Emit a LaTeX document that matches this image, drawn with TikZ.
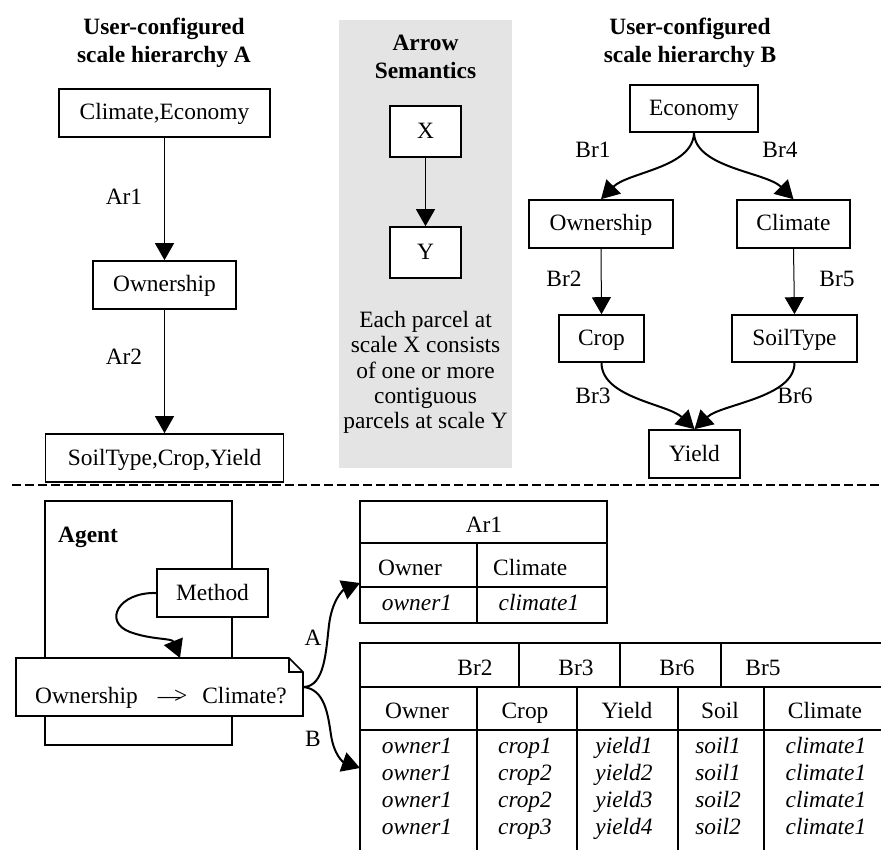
\documentclass[tikz,border=0pt]{standalone}
\usepackage{fontspec}
\setmainfont{Liberation Serif}
\usetikzlibrary{arrows.meta}
\newcommand{\fsz}{\fontsize{23.4}{25.3}\selectfont}
\newcommand{\fszb}{\fontsize{23.4}{27.5}\selectfont\bfseries}
\definecolor{semgray}{RGB}{228,228,228}
\begin{document}
\begin{tikzpicture}[x=1pt,y=-1pt,
  box/.style={draw, line width=1.6pt, fill=white, inner sep=0pt, text height=17pt, text depth=3pt, font=\fsz},
  lbl/.style={font=\fsz, inner sep=0pt, anchor=base},
  ttl/.style={font=\fszb, align=center, inner sep=0pt, anchor=north},
  thinarr/.style={line width=1pt, -{Triangle[length=17pt,width=19pt]}},
  curv/.style={line width=2pt, -{Triangle[length=18pt,width=20pt]}},
  tline/.style={line width=1.8pt},
]
\useasboundingbox (0,0) rectangle (881,850);

% gray semantics panel
\fill[semgray] (339,20) rectangle (512,468);

% ---------- hierarchy A ----------
\node[ttl] (titleA) at (164,18) {User-configured\\scale hierarchy A};
\node[box, minimum width=211pt, minimum height=48pt] (ce) at (164.5,113) {Climate,Economy};
\node[box, minimum width=143pt, minimum height=48pt] (ownA) at (164.5,285) {Ownership};
\node[box, minimum width=238pt, minimum height=48pt] (sctA) at (164.5,458) {SoilType,Crop,Yield};
\draw[thinarr] (ce.south) -- (ownA.north);
\draw[thinarr] (ownA.south) -- (sctA.north);
\node[lbl] (ar1l) at (124,205) {Ar1};
\node[lbl] (ar2l) at (124,364) {Ar2};

% ---------- arrow semantics ----------
\node[ttl] (titleS) at (425.5,35) {Arrow\\Semantics};
\node[box, minimum width=71pt, minimum height=51pt] (X) at (425.5,131.5) {X};
\node[box, minimum width=71pt, minimum height=51pt] (Y) at (425.5,252.5) {Y};
\draw[thinarr] (X.south) -- (Y.north);
\node[font=\fsz, align=center, inner sep=0pt, anchor=north] (semtxt) at (425.5,311) {Each parcel at\\scale X consists\\of one or more\\contiguous\\parcels at scale Y};

% ---------- hierarchy B ----------
\node[ttl] (titleB) at (690,18) {User-configured\\scale hierarchy B};
\node[box, minimum width=128pt, minimum height=47pt] (eco) at (694,108.5) {Economy};
\node[box, minimum width=144pt, minimum height=48pt] (ownB) at (601,224) {Ownership};
\node[box, minimum width=113pt, minimum height=48pt] (cli) at (793.5,224) {Climate};
\node[box, minimum width=85pt, minimum height=47pt] (crop) at (601.5,338.5) {Crop};
\node[box, minimum width=125pt, minimum height=47pt] (soil) at (794.5,338.5) {SoilType};
\node[box, minimum width=91pt, minimum height=48pt] (yield) at (694.5,454) {Yield};
\draw[curv] (eco.south) .. controls (693,168) and (628,172) .. (ownB.north);
\draw[curv] (eco.south) .. controls (695,168) and (766,172) .. (cli.north);
\draw[thinarr] (ownB.south) -- (crop.north);
\draw[thinarr] (cli.south) -- (soil.north);
\draw[curv] (crop.south) .. controls (601.5,398) and (668,404) .. (yield.north);
\draw[curv] (soil.south) .. controls (794.5,398) and (721,404) .. (yield.north);
\node[lbl] (br1l) at (593,158) {Br1};
\node[lbl] (br4l) at (780,158) {Br4};
\node[lbl] (br2l) at (564,287) {Br2};
\node[lbl] (br5l) at (837,287) {Br5};
\node[lbl] (br3l) at (593,403) {Br3};
\node[lbl] (br6l) at (795,403) {Br6};

% dashed separator
\draw[line width=2pt, dash pattern=on 9pt off 4pt] (12,485) -- (881,485);

% ---------- agent ----------
\node[draw, line width=1.5pt, minimum width=187pt, minimum height=244pt, inner sep=0pt] (agent) at (138.5,623) {};
\node[font=\fsz\bfseries, inner sep=0pt, anchor=base west] (agentl) at (58,542) {Agent};
\node[box, minimum width=111pt, minimum height=48pt] (method) at (212.5,593) {Method};
\draw[line width=1.6pt, fill=white] (16,658) -- (289,658) -- (303,672) -- (303,716) -- (16,716) -- cycle;
\draw[line width=1.6pt] (289,658) -- (289,672) -- (303,672);
\node[inner sep=0pt, minimum width=287pt, minimum height=58pt] (note) at (159.5,687) {};
\node[lbl] (notetxt) at (161,703) {Ownership\hspace{20pt}\textemdash\kern-7pt>\hspace{15pt}Climate?};
\coordinate (notein) at (180,658);
\draw[curv] (method.west) .. controls (118,592) and (103,622) .. (130,632) .. controls (152,640) and (172,638) .. (notein);

% connectors A / B
\coordinate (ar1in) at (360,583);
\coordinate (brin) at (360,768);
\draw[curv] (note.east) .. controls (325,687) and (326,650) .. (329,625) .. controls (332,600) and (343,590) .. (ar1in);
\draw[curv] (note.east) .. controls (325,689) and (328,715) .. (331,735) .. controls (334,755) and (343,762) .. (brin);
\node[lbl] (Al) at (313,645) {A};
\node[lbl] (Bl) at (313,746) {B};

% ---------- table Ar1 ----------
\draw[tline] (360,501) rectangle (607,623);
\draw[tline] (360,543) -- (607,543);
\draw[tline] (360,587) -- (607,587);
\draw[tline] (477,543) -- (477,623);
\node[lbl] (t1h) at (484,532) {Ar1};
\node[lbl, anchor=base west] (t1c1) at (378,575) {Owner};
\node[lbl, anchor=base west] (t1c2) at (493,575) {Climate};
\node[lbl, font=\fsz\itshape] (t1d1) at (417,610) {owner1};
\node[lbl, font=\fsz\itshape] (t1d2) at (539,610) {climate1};

% ---------- table B ----------
\draw[tline] (881,643) -- (360,643) -- (360,850);
\draw[tline] (360,687) -- (881,687);
\draw[tline] (360,730) -- (881,730);
\foreach \xx in {519,620,721} \draw[tline] (\xx,643) -- (\xx,687);
\foreach \xx in {477,577,678,764} \draw[tline] (\xx,687) -- (\xx,850);
\node[lbl] (h1) at (475,675) {Br2};
\node[lbl] (h2) at (576,675) {Br3};
\node[lbl] (h3) at (677,675) {Br6};
\node[lbl] (h4) at (763,675) {Br5};
\node[lbl] (c1) at (417,718) {Owner};
\node[lbl] (c2) at (525,718) {Crop};
\node[lbl] (c3) at (627,718) {Yield};
\node[lbl] (c4) at (720,718) {Soil};
\node[lbl] (c5) at (825,718) {Climate};
\foreach \yy/\cc/\yl/\sl [count=\i] in {753/crop1/yield1/soil1, 780/crop2/yield2/soil1, 807/crop2/yield3/soil2, 834/crop3/yield4/soil2}{
  \node[lbl, font=\fsz\itshape] (r\i a) at (417,\yy) {owner1};
  \node[lbl, font=\fsz\itshape] (r\i b) at (525,\yy) {\cc};
  \node[lbl, font=\fsz\itshape] (r\i c) at (624,\yy) {\yl};
  \node[lbl, font=\fsz\itshape] (r\i d) at (718,\yy) {\sl};
  \node[lbl, font=\fsz\itshape] (r\i e) at (826,\yy) {climate1};
}
\end{tikzpicture}
\end{document}
